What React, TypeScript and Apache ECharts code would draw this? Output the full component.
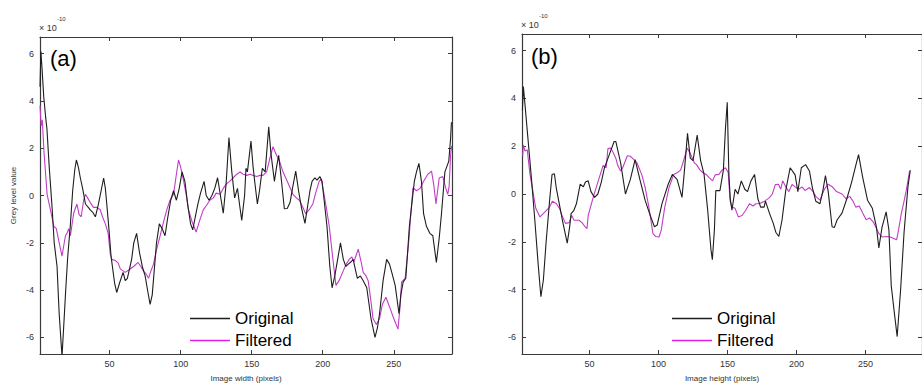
import React, { useEffect, useRef } from "react";
import * as echarts from "echarts";

// ---------- data (values in units of 1e-10) ----------
const xTickValues = [50, 100, 150, 200, 250];
const yTickValues = [-6, -4, -2, 0, 2, 4, 6];
const seriesNames = ["Original", "Filtered"];

// Panel (a): Image width
const originalA: [number, number][] = [
  [1, 4.6], [1.6, 6.1], [2.5, 5.3], [3.6, 4.2], [5, 3.3], [5.9, 2.8], [7.5, 1.2], [9.5, -0.5], [11, -2.0], [13, -3.0],
  [14.5, -5.0], [16.5, -6.8], [18, -5.2], [19, -4.1], [20.5, -2.6], [22.3, -1.3], [24, 0.2], [25.5, 1.1], [26.6, 1.5], [28, 1.2],
  [29.4, 0.74], [31, 0.3], [33, -0.36], [35, -0.5], [36.5, -0.62], [38, -0.7], [40, -0.9], [42, -0.4], [43.5, 0.05], [45.8, 0.74],
  [47, 0.3], [48, -0.36], [49.5, -1.4], [51, -2.56], [53.5, -3.7], [55, -4.1], [57, -3.7], [59.5, -3.25], [61, -3.6], [62.5, -3.5],
  [64, -3.1], [65.5, -2.7], [67, -2.0], [69, -1.6], [71, -2.4], [73, -3.0], [75, -3.4], [77, -4.1], [78.5, -4.6], [80, -4.2],
  [81.5, -3.1], [83, -2.0], [85, -1.2], [87, -1.4], [89, -1.7], [91, -0.9], [93, -0.2], [95, 0.2], [97, -0.2], [99, 0.3],
  [101, 1.0], [103, 0.6], [105, -0.4], [107, -1.2], [108.5, -1.45], [110, -1.0], [112, -0.4], [114, 0.1], [116.5, 0.6], [118, 0.0],
  [120, -0.2], [122, 0.0], [124, 0.3], [126, 0.75], [128, 0.0], [130, -0.75], [132, 0.5], [134, 2.45], [136, 1.0], [138, -0.1],
  [140, 0.3], [141.5, -0.4], [143, -1.05], [145, 0.0], [146, 1.15], [147, 1.0], [149.5, 2.3], [151, 1.2], [152.5, 0.4], [154, -0.36],
  [155.5, 0.2], [157.5, 1.15], [159.5, 1.0], [162, 2.9], [163.5, 1.8], [166, 0.6], [167.5, 1.2], [169, 1.7], [171, 0.6], [173, -0.56],
  [175, -0.55], [177, -0.3], [179, 0.4], [181, 1.03], [183, 0.2], [185, -0.5], [187.5, -1.18], [189, -0.6], [191, 0.2], [192.5, 0.6],
  [194.5, 0.75], [196, 0.65], [198, 0.8], [199.5, 0.6], [201, -0.2], [203, -1.3], [205, -3.0], [206.6, -3.9], [208.5, -3.4], [210.5, -2.7],
  [212.5, -2.0], [214.5, -2.7], [216.3, -3.0], [218, -2.9], [220, -2.8], [221.4, -2.7], [224.4, -3.5], [226.5, -3.4], [228.5, -3.6], [231, -3.9],
  [234, -5.2], [236.8, -6.0], [238.5, -5.6], [240, -5.0], [242.5, -3.6], [245, -2.7], [247, -2.9], [248.6, -3.25], [251, -3.8], [253.7, -5.0],
  [255, -4.2], [256.6, -3.66], [258.5, -3.5], [261, -1.3], [264.5, 0.6], [266, 1.0], [267.7, 1.36], [269.5, 0.6], [271, -0.77], [273, -1.3],
  [275.4, -1.6], [277.5, -1.7], [280, -2.83], [282, -1.8], [283.6, -0.77], [286, 1.0], [288.7, 1.44], [290, 2.4], [290.6, 3.1],
];
const filteredA: [number, number][] = [
  [1, 3.8], [1.8, 2.94], [2.6, 3.2], [3.8, 1.85], [6, 0.05], [8.3, -0.6], [10.7, -1.3], [12.5, -1.4], [14.5, -2.0], [16.5, -2.56],
  [18.9, -1.7], [20, -1.6], [21.2, -1.4], [22.4, -1.7], [24.7, -0.75], [27, -0.36], [28.5, -0.8], [30, -0.9], [31.7, -0.2], [33, 0.05],
  [34.5, -0.1], [36.4, -0.3], [38.6, -0.5], [41, -0.5], [43.4, -0.6], [45, -0.9], [47, -1.2], [49, -1.6], [50.5, -2.5], [51.6, -2.7],
  [54, -2.75], [56, -2.85], [57.5, -3.1], [61, -3.25], [63.5, -3.15], [66.9, -3.0], [70, -2.83], [72, -3.0], [73.9, -3.2], [75.5, -3.3],
  [77.4, -3.5], [79, -3.2], [80.9, -2.9], [83, -2.3], [85.6, -1.7], [88, -1.1], [90.3, -0.6], [92.5, -0.2], [95, 0.05], [97, 0.9],
  [98.5, 1.5], [100, 1.2], [102, 0.65], [104, 0.0], [105.5, -0.6], [108, -1.1], [110.9, -1.55], [113.7, -1.0], [116, -0.6], [118.4, -0.4],
  [120.5, -0.2], [123, -0.1], [125, 0.1], [127.8, 0.05], [130, 0.3], [132.4, 0.5], [134.5, 0.6], [137, 0.75], [139.5, 0.9], [141.8, 1.0],
  [144, 0.9], [146.5, 0.85], [149, 0.9], [151, 0.85], [153.5, 0.8], [155.9, 0.85], [158, 0.85], [160.5, 1.0], [162.5, 1.5], [165, 2.06],
  [167.5, 1.7], [169.7, 1.44], [172, 1.0], [174, 0.74], [176.5, 0.4], [179, 0.05], [181.5, -0.1], [183.6, -0.2], [186, -0.5], [188, -0.77],
  [190.5, -0.6], [193, -0.36], [195, 0.1], [197.5, 0.6], [199, 0.7], [200.5, 0.2], [202.5, -0.5], [204.6, -1.3], [207, -2.6], [209.3, -3.8],
  [211.5, -3.6], [214, -3.25], [216.5, -2.9], [218.7, -2.7], [220.5, -2.6], [222, -2.8], [225, -2.27], [227, -2.8], [228.5, -3.25], [230.5, -3.4],
  [232, -3.6], [233.8, -4.4], [235.4, -5.2], [237.8, -5.45], [240, -5.2], [242, -4.6], [244.5, -4.3], [247, -4.7], [250, -5.2], [253, -5.65],
  [254.3, -4.8], [255.5, -3.66], [258, -3.5], [260.5, -2.0], [262, -0.8], [263.5, 0.33], [266, 0.2], [268.5, 0.3], [271, 0.6], [274, 0.9],
  [276.6, 1.03], [278.3, 0.4], [279.7, -0.36], [282, 0.74], [284.5, 0.8], [286.5, 0.33], [288, 0.05], [289, 0.4], [290, 1.7], [290.7, 2.1],
];

// Panel (b): Image height
const originalB: [number, number][] = [
  [1.3, 3.5], [2, 4.5], [3, 3.85], [5.3, 2.33], [8, 0.55], [10.3, -1.1], [12.8, -3.0], [14.7, -4.3], [16.5, -3.6], [18.5, -2.0],
  [21, -0.27], [22.8, 0.82], [24.5, 0.85], [25.8, 0.27], [28, -0.4], [30.3, -1.1], [33.8, -2.06], [35.5, -1.4], [36.6, -0.82], [38.5, -0.7],
  [40.5, -0.4], [43.2, 0.41], [45.5, 0.3], [47, 0.5], [49, 0.55], [51, 0.1], [53.6, -0.14], [56, 0.0], [58.5, 0.5], [60.8, 1.1],
  [64.3, 1.65], [67.8, 2.2], [69, 2.2], [72.5, 1.3], [76, 0.0], [79.5, 0.6], [83, 1.44], [86.5, 0.6], [90.3, -0.27], [93.5, -0.82],
  [97, -1.37], [99, -1.3], [102.5, -0.4], [107, 0.41], [110, 0.82], [113.5, 0.6], [117, -0.14], [118.5, 0.8], [121, 2.54], [123, 1.5],
  [125, 1.4], [128, 2.47], [130.5, 1.4], [133, 0.82], [135.5, -0.6], [138, -2.33], [139, -2.75], [140.5, -1.5], [141.5, 0.14], [144.5, 0.14],
  [147, 1.0], [148.5, 2.74], [149.8, 3.84], [151, 0.8], [152, -0.2], [153.2, -0.68], [155.5, 0.2], [157.5, 0.0], [160, 0.55], [162.5, 0.2],
  [164.5, 0.1], [167, 0.55], [169.6, 0.82], [172, -0.2], [174, -0.55], [176.5, -0.55], [177.5, -0.3], [180.5, -0.82], [183, -1.2], [185, -1.6],
  [187.2, -1.78], [189.5, -1.1], [192.2, 0.14], [195.4, 1.1], [199, 0.8], [201, 0.1], [203.5, 1.1], [206.6, 1.23], [209.4, 0.96], [211.5, 0.27],
  [214, -0.3], [217, -0.41], [219, 0.1], [221, 0.77], [223, 0.1], [225.8, -1.37], [227.5, -1.4], [229.5, -1.08], [233, -0.8], [236.5, -0.2],
  [240, 0.5], [243, 1.2], [245, 1.65], [248, 0.7], [251.5, -0.26], [255, -0.6], [258, -1.4], [259.7, -2.26], [262, -1.4], [265, -0.75],
  [267, -1.5], [268.7, -3.84], [271, -5.0], [273, -5.97], [275.5, -4.0], [278, -1.6], [280.8, 0.3], [282.5, 1.0],
];
const filteredB: [number, number][] = [
  [1.5, 1.6], [2, 2.06], [3.2, 1.8], [4.8, 1.85], [6.8, 0.82], [9.5, -0.1], [11, -0.6], [14, -0.96], [17.7, -0.75], [21, -0.55],
  [23, -0.3], [25.8, -0.4], [28.2, -0.6], [30, -0.9], [32.5, -1.23], [35.2, -1.2], [37, -0.9], [38.8, -1.1], [42.3, -1.1], [44.5, -1.2],
  [46.7, -1.37], [48.1, -1.45], [49, -0.9], [52.6, -0.14], [56.3, 0.55], [59.8, 1.2], [62, 1.1], [63.3, 1.9], [65.4, 1.92], [67, 1.75],
  [69, 1.5], [70.4, 1.2], [72.5, 0.96], [74, 1.1], [77.4, 1.6], [79.5, 1.58], [81, 1.5], [84.4, 1.3], [87.9, 0.8], [90.3, 0.27],
  [93, -0.55], [95.9, -1.65], [98, -1.78], [100.4, -1.8], [102, -1.5], [104.5, -0.55], [107.6, 0.27], [111, 0.82], [113.7, 0.9], [116, 1.0],
  [118, 1.37], [120.7, 1.92], [123, 1.7], [126, 1.3], [127.5, 1.23], [130.1, 1.0], [132, 0.9], [134.5, 0.82], [136.5, 0.7], [139.2, 0.55],
  [141, 0.8], [143.8, 0.82], [146, 1.0], [148.5, 1.1], [150.5, 0.9], [151.9, -0.3], [153.2, -0.55], [155.5, -0.6], [157.8, -0.96], [160.5, -0.9],
  [163, -0.7], [165.9, -0.41], [168.5, -0.5], [170.6, -0.41], [173.4, -0.4], [176.9, -0.3], [180.4, -0.15], [182.5, 0.0], [184.7, 0.4], [186.9, 0.41],
  [188.6, 0.2], [190, 0.55], [192.2, 0.3], [194.5, 0.1], [196.8, 0.4], [199, 0.3], [201.5, 0.2], [204, 0.3], [206.2, 0.15], [209.4, 0.27],
  [212, 0.1], [214, -0.1], [217, -0.26], [219.5, 0.1], [221, 0.27], [223, 0.41], [226, 0.3], [229, 0.1], [233, 0.0], [236, -0.2],
  [238.6, -0.1], [241, -0.3], [243, -0.55], [245.5, -0.5], [248, -0.8], [250.5, -1.08], [253, -1.0], [256, -1.2], [259.7, -1.65], [262, -1.8],
  [265.5, -1.78], [268, -1.8], [270, -1.85], [272.6, -1.92], [274, -1.5], [276, -0.82], [278, -0.3], [279.6, 0.15], [282, 0.96],
];

const FONT = "Liberation Sans, Arial, sans-serif";
const AXIS_COLOR = "#3a3a3a";
const BLACK_LINE = "#1e1e1e";
const MAGENTA_LINE = "#c23cc6";
const LEGEND_MAGENTA = "#e41ee4";

export default function App() {
  const ref = useRef<HTMLDivElement>(null);

  useEffect(() => {
    if (!ref.current) return;
    const chart = echarts.init(ref.current, undefined, { renderer: "svg" });

    const tickStyle = { inside: true, length: 4, lineStyle: { color: AXIS_COLOR, width: 1 } };
    const lineStyle = { onZero: false, lineStyle: { color: AXIS_COLOR, width: 1.2 } };
    const labelStyle = { fontSize: 9, color: "#333", fontFamily: FONT };

    const makeX = (grid: number, name: string) => [
      {
        type: "value", gridIndex: grid, min: 1, max: 291, position: "bottom",
        axisLine: lineStyle,
        axisTick: { ...tickStyle, customValues: xTickValues },
        axisLabel: { ...labelStyle, margin: 5, customValues: xTickValues },
        splitLine: { show: false },
        name, nameLocation: "middle", nameGap: 20,
        nameTextStyle: { fontSize: 8, color: "#333", fontFamily: FONT },
      },
      {
        type: "value", gridIndex: grid, min: 1, max: 291, position: "top",
        axisLine: lineStyle,
        axisTick: { ...tickStyle, customValues: xTickValues },
        axisLabel: { show: false },
        splitLine: { show: false },
      },
    ];
    const makeY = (grid: number, name: string) => [
      {
        type: "value", gridIndex: grid, min: -6.7, max: 6.7, position: "left",
        axisLine: lineStyle,
        axisTick: { ...tickStyle, customValues: yTickValues },
        axisLabel: { ...labelStyle, margin: 6, customValues: yTickValues },
        splitLine: { show: false },
        name, nameLocation: "middle", nameGap: 23, nameRotate: 90,
        nameTextStyle: { fontSize: 8, color: "#333", fontFamily: FONT },
      },
      {
        type: "value", gridIndex: grid, min: -6.7, max: 6.7, position: "right",
        axisLine: lineStyle,
        axisTick: { ...tickStyle, customValues: yTickValues },
        axisLabel: { show: false },
        splitLine: { show: false },
      },
    ];

    const lineSeries = (name: string, data: [number, number][], axis: number, color: string) => ({
      type: "line", name, data, xAxisIndex: axis, yAxisIndex: axis,
      symbol: "none", showSymbol: false, smooth: false,
      lineStyle: { color, width: 1.1 }, itemStyle: { color },
      z: name === "Original" ? 3 : 2,
    });

    const legendBase = {
      orient: "vertical", icon: "rect", itemWidth: 40, itemHeight: 1.6, itemGap: 5,
      textStyle: { fontSize: 17, color: "#000", fontFamily: FONT, padding: [0, 0, 0, 0] },
      data: [
        { name: seriesNames[0], itemStyle: { color: BLACK_LINE } },
        { name: seriesNames[1], itemStyle: { color: LEGEND_MAGENTA } },
      ],
      selectedMode: false,
    };

    const smallText = (x: number, y: number, t: string, size: number) => ({
      type: "text", x, y, style: { text: t, fontSize: size, fill: "#333", fontFamily: FONT },
    });

    chart.setOption({
      animation: false,
      backgroundColor: "#ffffff",
      grid: [
        { left: 40, top: 37, width: 412, height: 324 },
        { left: 522, top: 34, width: 412, height: 325 },
      ],
      xAxis: [...makeX(0, "Image width (pixels)"), ...makeX(1, "Image height (pixels)")],
      yAxis: [...makeY(0, "Grey level value"), ...makeY(1, "")],
      legend: [
        { ...legendBase, left: 185, top: 305 },
        { ...legendBase, left: 667, top: 305 },
      ],
      series: [
        lineSeries(seriesNames[1], filteredA, 0, MAGENTA_LINE),
        lineSeries(seriesNames[0], originalA, 0, BLACK_LINE),
        lineSeries(seriesNames[1], filteredB, 2, MAGENTA_LINE),
        lineSeries(seriesNames[0], originalB, 2, BLACK_LINE),
      ],
      graphic: [
        smallText(39, 23, "× 10", 9),
        smallText(57, 16, "-10", 6),
        smallText(521, 20, "× 10", 9),
        smallText(539, 13, "-10", 6),
        { type: "text", x: 50, y: 47, style: { text: "(a)", fontSize: 22, fill: "#000", fontFamily: FONT } },
        { type: "text", x: 531, y: 45, style: { text: "(b)", fontSize: 22, fill: "#000", fontFamily: FONT } },
      ],
    });

    return () => chart.dispose();
  }, []);

  return (
    <div
      ref={ref}
      style={{ position: "fixed", left: 0, top: 0, width: 922, height: 387, background: "#fff" }}
    />
  );
}
